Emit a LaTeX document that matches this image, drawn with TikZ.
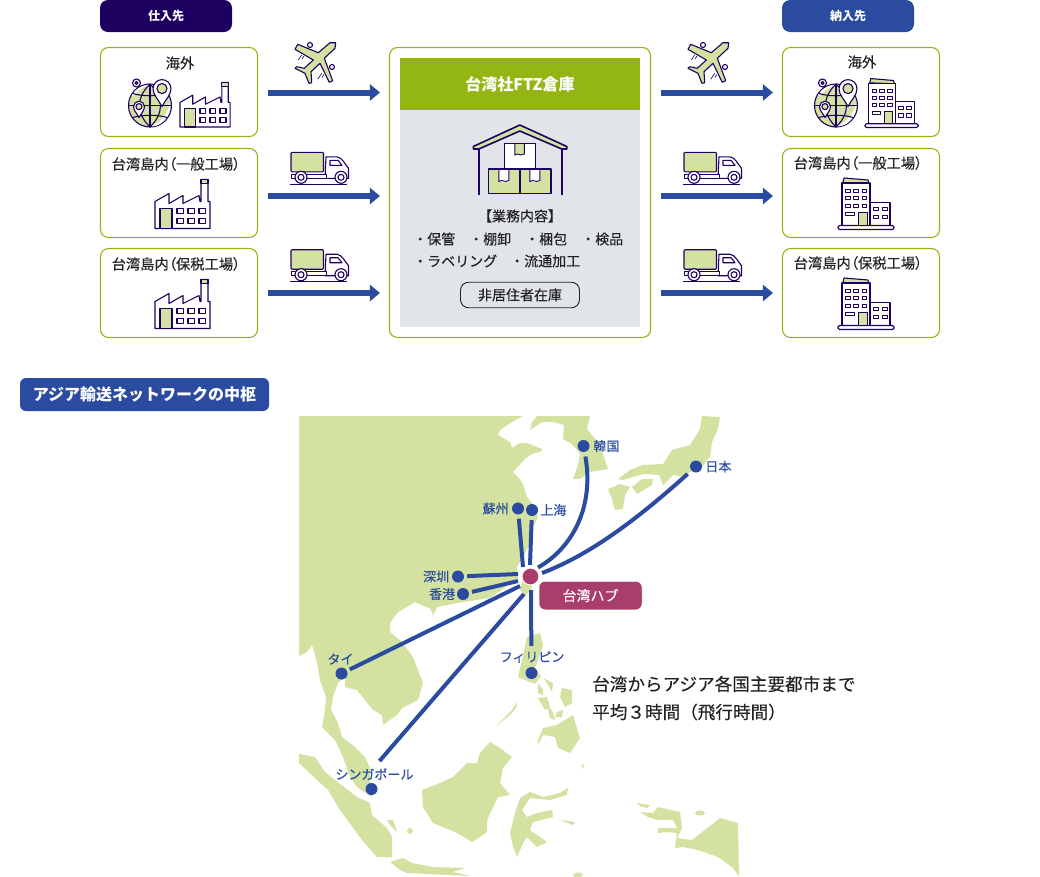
\documentclass[tikz,border=0pt]{standalone}
\usepackage{fontspec}
\usepackage{xcolor}
\setmainfont[RawFeature=+palt]{Noto Sans CJK JP}
\newfontfamily\fullcjk{Noto Sans CJK JP}
\newfontfamily\midpalt[RawFeature=+palt, FakeBold=0.25]{Noto Sans CJK JP}
\newfontfamily\midcjk[FakeBold=0.25]{Noto Sans CJK JP}
\usetikzlibrary{arrows.meta, positioning, calc}
\definecolor{navy}{HTML}{1E0060}
\definecolor{flowblue}{HTML}{2A4B9F}
\definecolor{olive}{HTML}{94B614}
\definecolor{landgreen}{HTML}{D3E1A1}
\definecolor{panelgray}{HTML}{E1E4E9}
\definecolor{hubred}{HTML}{A93E6C}
\definecolor{inkdark}{HTML}{222222}
\newcommand{\fs}[1]{\fontsize{#1}{#1}\selectfont}

\tikzset{
    flow/.style={line width=6pt, flowblue, -{Triangle[length=10pt,width=16pt]}, shorten <=10pt, shorten >=9pt},
    route/.style={line width=4pt, flowblue},
    box/.style={draw=olive, line width=1.1pt, rounded corners=8pt, minimum width=157pt, minimum height=89pt, inner sep=0pt},
    boxlabel/.style={text=inkdark, font=\midpalt\fs{14.3}, inner sep=0pt},
    headbox/.style={rounded corners=8pt, minimum width=132pt, minimum height=32pt, inner sep=0pt, text=white, font=\bfseries\fs{12}},
    citydot/.style={circle, fill=flowblue, inner sep=0pt, minimum size=12pt},
    citylabel/.style={text=flowblue, font=\midcjk\fs{13}, inner sep=0pt},
    worklabel/.style={text=inkdark, font=\midcjk\fs{14}, anchor=west, inner sep=0pt},
    land/.style={fill=landgreen, draw=none},
    icon/.style={draw=navy, line width=1.1pt, line join=round},
    factory/.pic={
        \draw[icon, fill=white] (0,0) -- (0,-27) -- (14,-35) -- (14,-25) -- (28,-33) -- (28,-25) -- (44,-33) -- (45,-27) -- (46,-27) -- (46,-49) -- (53,-49) -- (53,-27) -- (55,-27) -- (55,0) -- cycle;
        \draw[icon, fill=landgreen] (46,-49) rectangle (53,-45);
        \draw[icon, fill=landgreen] (5,0) rectangle (17,-20);
        \foreach \wx in {22,33,44} \foreach \wy in {-20,-10} \draw[icon] (\wx,\wy) rectangle ++(6.5,5);
    },
    building/.pic={
        \draw[icon, fill=landgreen] (5,-47) -- (6,-51.5) -- (30,-49.5) -- (31,-46) -- cycle;
        \draw[icon, fill=white] (4,-4) -- (4,-46.5) -- (32,-46.5) -- (32,-4);
        \draw[icon, fill=white] (33,-27) -- (52,-27) -- (52,-4) -- (33,-4);
        \draw[icon, fill=white, rounded corners=1.5pt] (0,0) rectangle (56,-4);
        \foreach \wx in {7.5,15.5,24} \foreach \wy in {-40,-33,-25.5} \draw[icon, line width=0.8pt] (\wx,\wy) rectangle ++(4.5,3);
        \draw[icon, line width=0.8pt] (7.5,-17) rectangle ++(8.5,3);
        \draw[icon, fill=landgreen, line width=0.8pt] (20,-4) rectangle (29,-17);
        \foreach \wx in {35.5,44} \foreach \wy in {-22.5,-14.5} \draw[icon, line width=0.8pt] (\wx,\wy) rectangle ++(5,3.5);
    },
    mappin/.pic={
        \draw[icon, fill=white] (0,0) .. controls (-3,-6) and (-8,-10) .. (-8,-16) .. controls (-8,-20.4) and (-4.4,-24) .. (0,-24) .. controls (4.4,-24) and (8,-20.4) .. (8,-16) .. controls (8,-10) and (3,-6) .. (0,0) -- cycle;
        \draw[icon, fill=landgreen] (0,-16) circle (4.5);
    },
    globe/.pic={
        \draw[icon, fill=landgreen] (0,0) circle (21.5);
        \fill[white] (2,20) .. controls (12,16) and (18,8) .. (20,-3) .. controls (22,8) and (14,20) .. (2,21) -- cycle;
        \fill[white] (-16,-10) .. controls (-10,-17) and (-4,-20) .. (3,-21) .. controls (-6,-21) and (-14,-18) .. (-18,-10) -- cycle;
        \draw[icon] (0,-21.5) -- (0,21.5);
        \draw[icon] (0,-21.5) .. controls (-14,-8) and (-14,8) .. (0,21.5);
        \draw[icon] (0,-21.5) .. controls (14,-8) and (14,8) .. (0,21.5);
        \draw[icon] (-21.5,0) -- (21.5,0);
        \draw[icon] (-17,-12) .. controls (-8,-9) and (8,-9) .. (17,-12);
        \draw[icon] (-17,12) .. controls (-8,9) and (8,9) .. (17,12);
        \pic[scale=1.12] at (12,1) {mappin};
        \pic[scale=.68] at (-11,12) {mappin};
        \draw[icon, fill=white] (-13.5,-22.5) circle (4);
        \draw[icon, fill=landgreen] (-13.5,-22.5) circle (1.5);
    },
    plane/.pic={
        \draw[icon, fill=white] (15,-38) circle (2.5);
        \draw[icon, fill=white] (37,-16) circle (2.5);
        \draw[icon, fill=landgreen] (40.7,-40.3) -- (40,-34.7) -- (29.3,-24.7) -- (37.7,-2.3) -- (34.3,-0.7) -- (25,-19.7) -- (16,-11.3) -- (16.7,-0.3) -- (14,0.3) -- (10,-9.7) -- (0,-14.7) -- (1.7,-16.3) -- (9.3,-14.7) -- (18.3,-23) -- (0,-33.7) -- (2.7,-38.7) -- (23.3,-30.3) -- (35,-40.3) -- cycle;
        \draw[navy, line width=0.6pt] (6.7,-28) -- (3.3,-23) (26.7,-9.7) -- (22.7,-3.7) (9,-27) -- (7,-24) (29,-8.5) -- (27,-5.5);
    },
    truck/.pic={
        \draw[icon, fill=white] (36,-27.5) -- (47,-27.5) .. controls (52,-27) and (55,-20) .. (58.5,-16) -- (58.5,-6) -- (35,-6) -- cycle;
        \draw[icon, fill=white] (40,-24) -- (48,-24) -- (52,-19) -- (40,-19) -- cycle;
        \draw[icon, fill=landgreen, rounded corners=1pt] (1,-32) rectangle (33.5,-12.5);
        \draw[icon, line width=0.8pt, fill=white] (1,-10) -- (36,-10) -- (36,-6) -- (1,-6) -- cycle;
        \draw[icon, fill=white] (11,-7) circle (6);
        \draw[icon, fill=white] (11,-7) circle (3);
        \draw[icon, fill=white] (51,-7) circle (6);
        \draw[icon, fill=white] (51,-7) circle (3);
        \draw[navy, line width=0.9pt] (0,0) -- (57,0);
    },
    warehouse/.pic={
        \draw[icon, line width=1.6pt, fill=landgreen] (-46.5,21.5) -- (0,0) -- (47,21.5) -- (47,24) -- (42,24) -- (0,6) -- (-41,24) -- (-46.5,24) -- cycle;
        \draw[icon, line width=1.6pt] (-41,24) -- (-41,69.5) (42,24) -- (42,69.5);
        \draw[icon, line width=1.6pt, fill=white] (-15.5,18.5) rectangle (15.7,44);
        \fill[landgreen] (-5,19) rectangle (4.5,30);
        \draw[icon, line width=1.6pt, fill=landgreen] (-31.5,44) rectangle (0,68.5);
        \draw[icon, line width=1.6pt, fill=landgreen] (0,44) rectangle (31,68.5);
        \foreach \tx in {-21,10} {
            \fill[white] (\tx,45) rectangle ++(10,11.5);
            \draw[navy, line width=0.9pt] (\tx,45) -- (\tx,56.5) -- ++(3,-1) -- ++(4,1) -- ++(3,-1) -- ++(0,-10.5);
        }
        \draw[navy, line width=0.9pt] (-5,19) -- (-5,30) -- ++(3,-1) -- ++(3.5,1) -- ++(3,-1) -- (4.5,19);
    },
}

\begin{document}
\begin{tikzpicture}[x=1pt, y=-1pt]
    \useasboundingbox (0,0) rectangle (1040,876);

    % flow section
    \node[headbox, fill=navy] (srchead) at (166,16) {仕入先};
    \node[headbox, fill=flowblue] (dsthead) at (848,16) {納入先};

    \node[box] (srcA) at (179,92) {};
    \node[box] (srcB) at (179,193) {};
    \node[box] (srcC) at (179,293) {};
    \node[box] (dstA) at (861,92) {};
    \node[box] (dstB) at (861,193) {};
    \node[box] (dstC) at (861,293) {};
    \node[draw=olive, line width=1.1pt, rounded corners=8pt, minimum width=261pt, minimum height=290pt, inner sep=0pt] (ftz) at (520,192.5) {};

    \node[boxlabel] (srcAtext) at (180,63) {海外};
    \node[boxlabel] (srcBtext) at (176,164) {台湾島内（一般工場）};
    \node[boxlabel] (srcCtext) at (176,264) {台湾島内（保税工場）};
    \node[boxlabel] (dstAtext) at (862,62) {海外};
    \node[boxlabel] (dstBtext) at (858,163) {台湾島内（一般工場）};
    \node[boxlabel] (dstCtext) at (858,263) {台湾島内（保税工場）};

    \pic at (150,105.5) {globe};
    \pic[scale=.91] at (180,127) {factory};
    \pic at (155,228.5) {factory};
    \pic at (155,328.5) {factory};
    \pic at (836,105.5) {globe};
    \pic[scale=.95] at (865,127.5) {building};
    \pic at (838,229.5) {building};
    \pic at (838,329.5) {building};

    \pic at (295,83) {plane};
    \pic at (688,83) {plane};
    \pic at (290,184.3) {truck};
    \pic at (290,281.7) {truck};
    \pic at (683,184.3) {truck};
    \pic at (683,281.7) {truck};

    \foreach \rowy/\srcname/\dstname in {92.5/srcA/dstA, 196/srcB/dstB, 293/srcC/dstC} {
        \draw[flow] (\srcname.east |- 0,\rowy) -- (ftz.west |- 0,\rowy);
        \draw[flow] (ftz.east |- 0,\rowy) -- (\dstname.west |- 0,\rowy);
    }

    \node[fill=panelgray, minimum width=240pt, minimum height=217pt, inner sep=0pt] (panel) at (520,218.5) {};
    \node[fill=olive, minimum width=240pt, minimum height=52pt, inner sep=0pt, text=white, font=\bfseries\fs{16}] (ftzhead) at (520,84) {台湾社FTZ倉庫};
    \pic at (519.8,125) {warehouse};

    \node[worklabel, anchor=center] (worktitle) at (520,216) {【業務内容】};
    \node[worklabel] (workA) at (413,239) {・保管};
    \node[worklabel] (workB) at (469,239) {・棚卸};
    \node[worklabel] (workC) at (525,239) {・梱包};
    \node[worklabel] (workD) at (581,239) {・検品};
    \node[worklabel] (workE) at (413,261) {・ラベリング};
    \node[worklabel] (workF) at (510,261) {・流通加工};
    \node[draw=inkdark, line width=0.9pt, rounded corners=8pt, minimum width=119pt, minimum height=25.5pt, inner sep=0pt, text=inkdark, font=\midcjk\fs{14}] (stock) at (520,295) {非居住者在庫};

    % map section
    \node[fill=flowblue, rounded corners=6pt, minimum width=249pt, minimum height=33pt, inner sep=0pt, text=white, font=\bfseries\fullcjk\fs{16}] (maphead) at (144.5,394.5) {アジア輸送ネットワークの中枢};

    \begin{scope}
        \clip (299,416) rectangle (739,876);
        % mainland
        \fill[land] (299,416) -- (523,416) -- (517,419) -- (512,422) -- (500,430) -- (498,435) -- (505,439) -- (510,442) -- (512,448) -- (520,443) -- (527,443) -- (532,445) -- (542,449) -- (542,451) -- (532,454) -- (525,459) -- (513,472) -- (518,477) -- (523,484) -- (527,497) -- (535,507) -- (538,517) -- (533,527) -- (530,543) -- (523,557) -- (517,567) -- (518,578) -- (490,598) -- (463,602) -- (437,607) -- (433,615) -- (430,608) -- (426,607) -- (415,602) -- (407,607) -- (398,612) -- (390,623) -- (390,632) -- (402,642) -- (413,657) -- (423,683) -- (418,700) -- (402,708) -- (397,715) -- (383,725) -- (382,715) -- (373,710) -- (357,690) -- (345,687) -- (345,677) -- (338,683) -- (333,697) -- (331,710) -- (338,723) -- (342,737) -- (355,747) -- (365,757) -- (370,768) -- (370,780) -- (372,797) -- (357,787) -- (350,777) -- (343,757) -- (335,740) -- (322,727) -- (325,710) -- (326,697) -- (320,680) -- (317,662) -- (312,645) -- (307,652) -- (299,656) -- cycle;
        % korea
        \fill[land] (537,416) -- (590,416) -- (587,429) -- (600,445) -- (608,469) -- (590,472) -- (580,479) -- (573,479) -- (578,465) -- (580,454) -- (572,444) -- (563,439) -- (564,425) -- (553,422) -- (542,422) -- (530,430) -- (532,422) -- cycle;
        % japan
        \fill[land] (702,416) -- (720,417) -- (718,429) -- (712,442) -- (710,457) -- (700,469) -- (690,472) -- (685,477) -- (673,475) -- (663,485) -- (659,475) -- (643,474) -- (623,480) -- (618,479) -- (630,470) -- (643,465) -- (663,464) -- (672,450) -- (690,445) -- (700,429) -- cycle;
        \fill[land] (632,487) -- (642,479) -- (653,479) -- (652,485) -- (637,494) -- cycle;
        \fill[land] (608,489) -- (620,484) -- (630,487) -- (625,495) -- (623,509) -- (615,510) -- (612,499) -- cycle;
        % taiwan and philippines
        \fill[land] (527,578) -- (533,580) -- (531,590) -- (526,595) -- (520,590) -- (522,582) -- cycle;
        \fill[land] (527,637) -- (540,633) -- (543,645) -- (540,655) -- (535,668) -- (541,676) -- (535,684) -- (525,680) -- (518,677) -- (522,660) -- cycle;
        \fill[land] (543,678) -- (553,683) -- (552,692) -- (547,683) -- cycle;
        \fill[land] (562,688) -- (572,690) -- (572,703) -- (565,707) -- (560,697) -- cycle;
        \fill[land] (538,698) -- (547,697) -- (550,707) -- (545,710) -- cycle;
        \fill[land] (547,705) -- (552,710) -- (555,720) -- (550,718) -- cycle;
        \fill[land] (557,712) -- (563,710) -- (562,717) -- (555,717) -- cycle;
        \fill[land] (538,683) -- (543,690) -- (543,695) -- (538,693) -- cycle;
        \fill[land] (538,740) -- (543,728) -- (557,725) -- (573,715) -- (580,738) -- (570,753) -- (558,748) -- (555,737) -- (543,735) -- (538,745) -- cycle;
        \fill[land] (495,727) -- (512,710) -- (517,702) -- (516,708) -- (510,715) -- cycle;
        \fill[land] (581,765) -- (584,764) -- (583,769) -- cycle;
        % sumatra, java, borneo
        \fill[land] (299,754) -- (315,757) -- (325,772) -- (335,780) -- (357,797) -- (370,803) -- (372,815) -- (387,828) -- (392,837) -- (392,857) -- (377,857) -- (362,840) -- (340,810) -- (328,790) -- (315,778) -- (299,763) -- cycle;
        \fill[land] (387,820) -- (393,820) -- (397,832) -- (390,825) -- cycle;
        \fill[land] (410,831) circle (3);
        \fill[land] (390,862) -- (403,858) -- (412,863) -- (433,867) -- (465,868) -- (453,872) -- (470,876) -- (407,873) -- (400,870) -- cycle;
        \fill[land] (422,790) -- (440,783) -- (453,777) -- (467,763) -- (477,763) -- (480,753) -- (490,742) -- (500,748) -- (512,757) -- (503,768) -- (500,783) -- (510,795) -- (498,797) -- (487,820) -- (487,832) -- (472,842) -- (457,833) -- (433,823) -- (423,807) -- cycle;
        % sulawesi and new guinea
        \fill[land] (568,788) -- (567,795) -- (550,800) -- (530,798) -- (522,810) -- (527,817) -- (537,813) -- (552,810) -- (553,817) -- (533,822) -- (530,830) -- (547,842) -- (537,847) -- (527,837) -- (523,843) -- (517,857) -- (513,847) -- (510,833) -- (515,813) -- (520,798) -- (530,792) -- (543,797) -- (560,793) -- cycle;
        \fill[land] (560,820) -- (575,822) -- (573,825) -- (565,822) -- cycle;
        \fill[land] (637,803) -- (650,805) -- (647,808) -- (640,806) -- cycle;
        \fill[land] (640,812) -- (653,813) -- (658,807) -- (680,812) -- (682,828) -- (677,838) -- (692,840) -- (720,818) -- (738,823) -- (739,876) -- (732,867) -- (718,857) -- (698,850) -- (683,847) -- (675,848) -- (677,833) -- (667,832) -- (658,833) -- (658,828) -- (677,828) -- (673,820) -- (657,820) -- (648,817) -- cycle;
        \fill[land] (700,813) ellipse (5 and 2.5);
        \fill[land] (578,875) ellipse (5 and 2.5);
    \end{scope}

    \node[citydot] (korea) at (583.5,446) {};
    \node[citydot] (japan) at (696,466.5) {};
    \node[citydot] (suzhou) at (518,508.5) {};
    \node[citydot] (shanghai) at (532,510) {};
    \node[citydot] (shenzhen) at (458,576.5) {};
    \node[citydot] (hongkong) at (463,594) {};
    \node[citydot] (thai) at (341.5,673.5) {};
    \node[citydot] (philippines) at (531.5,673) {};
    \node[citydot] (singapore) at (371.5,789) {};
    \node[circle, fill=hubred, draw=white, line width=1pt, inner sep=0pt, minimum size=17pt] (hub) at (530.5,576.5) {};

    \coordinate (hubK) at (538,567.5);
    \coordinate (hubJ) at (542,573);
    \coordinate (hubSz) at (523,567);
    \coordinate (hubSh) at (530,565);
    \coordinate (hubSn) at (518,574);
    \coordinate (hubHk) at (518,581);
    \coordinate (hubTh) at (520,586);
    \coordinate (hubSg) at (524,594);
    \coordinate (hubPh) at (531,590);
    \coordinate (sgEnd) at (379.5,761);

    \draw[route, shorten >=4.5pt] (hubK) .. controls (574,547) and (594,505) .. (korea);
    \draw[route, shorten >=5pt] (hubJ) .. controls (595,553) and (645,512) .. (japan);
    \draw[route, shorten >=4pt] (hubSz) -- (suzhou);
    \draw[route, shorten >=4pt] (hubSh) -- (shanghai);
    \draw[route, shorten >=3pt] (hubSn) -- (shenzhen);
    \draw[route, shorten >=3pt] (hubHk) -- (hongkong);
    \draw[route, shorten >=3pt] (hubTh) -- (thai);
    \draw[route] (hubSg) -- (sgEnd);
    \draw[route, shorten >=21pt] (hubPh) -- (philippines);

    \node[citylabel, right=3.5pt of korea] (korealabel) {韓国};
    \node[citylabel, right=3pt of japan] (japanlabel) {日本};
    \node[citylabel, right=2pt of shanghai] (shanghailabel) {上海};
    \node[citylabel, left=3pt of suzhou] (suzhoulabel) {蘇州};
    \node[citylabel, left=2.5pt of shenzhen] (shenzhenlabel) {深圳};
    \node[citylabel, left=1.5pt of hongkong] (hongkonglabel) {香港};
    \node[citylabel] (thailabel) at (340.5,659) {タイ};
    \node[citylabel] (philippineslabel) at (532,657) {フィリピン};
    \node[citylabel] (singaporelabel) at (374.5,774) {シンガポール};

    \node[fill=hubred, draw=white, line width=0.5pt, rounded corners=6pt, minimum width=103pt, minimum height=28.5pt, inner sep=0pt, text=white, font=\midcjk\fs{14}] (hublabel) at (590.5,595.5) {台湾ハブ};

    \node[anchor=west, inner sep=0pt, text=inkdark, font=\midcjk\fs{17.6}] (noteA) at (592,684) {台湾からアジア各国主要都市まで};
    \node[anchor=west, inner sep=0pt, text=inkdark, font=\midcjk\fs{17.6}] (noteB) at (592,712) {平均３時間（飛行時間）};
\end{tikzpicture}
\end{document}
